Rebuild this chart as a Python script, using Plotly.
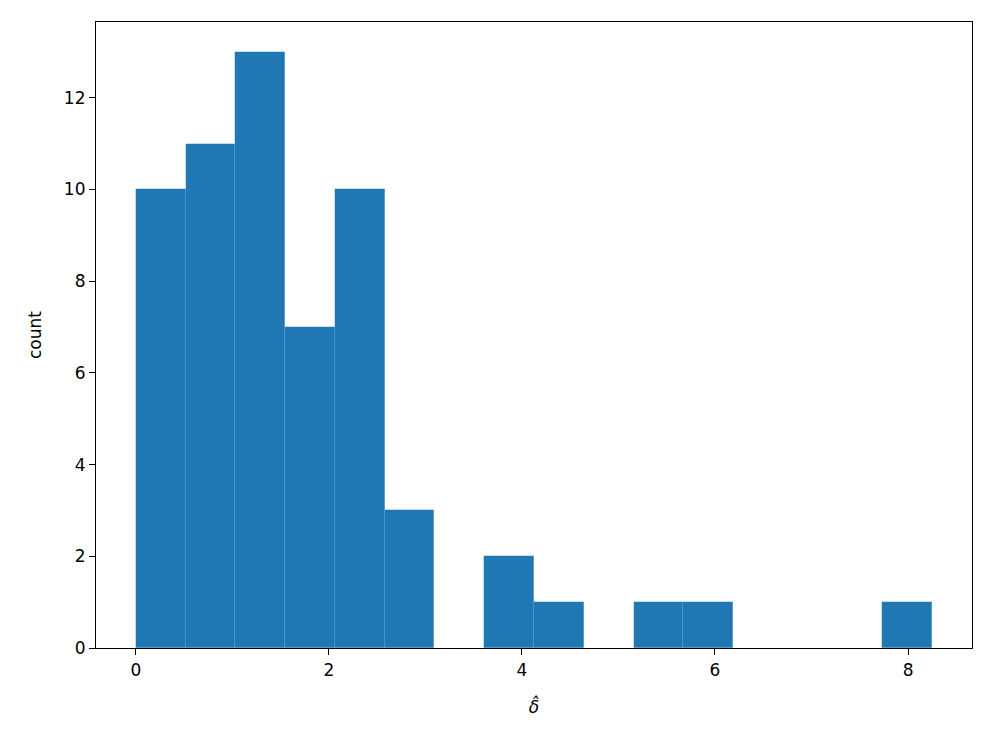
import numpy as np
import plotly.graph_objects as go

# histogram of delta-hat: 16 equal bins between 0 and 8.25
bin_start = 0.0
bin_end = 8.25
counts = [10, 11, 13, 7, 10, 3, 0, 2, 1, 0, 1, 1, 0, 0, 0, 1]

y_ticks = [0, 2, 4, 6, 8, 10, 12]
x_ticks = [0, 2, 4, 6, 8]

edges = np.linspace(bin_start, bin_end, len(counts) + 1)
centers = (edges[:-1] + edges[1:]) / 2
width = edges[1] - edges[0]

fig = go.Figure(
    go.Bar(
        x=centers, y=counts, width=width,
        marker=dict(color="#1f77b4", line=dict(width=0.5, color="rgba(255,255,255,0.06)")),
    )
)

span = bin_end - bin_start
axis_style = dict(
    showgrid=False, zeroline=False, showline=True, mirror=True,
    linecolor="black", linewidth=1.2, ticks="outside", ticklen=6,
    tickwidth=1.2, tickcolor="black",
    tickfont=dict(family="DejaVu Sans", size=17, color="black"),
)
fig.update_xaxes(
    range=[bin_start - 0.05 * span, bin_end + 0.05 * span],
    tickvals=x_ticks,
    title=dict(text="<i>δ̂</i>", font=dict(family="DejaVu Sans", size=17, color="black"), standoff=22),
    **axis_style,
)
fig.update_yaxes(
    range=[0, max(counts) * 1.05],
    tickvals=y_ticks,
    title=dict(text="count", font=dict(family="DejaVu Sans", size=17, color="black"), standoff=17),
    **axis_style,
)
# page body adds 8px, so margins are offset to land the axes where matplotlib had them
fig.update_layout(
    width=996, height=747,
    margin=dict(l=88, r=32, t=14, b=107),
    paper_bgcolor="white", plot_bgcolor="white",
    bargap=0, showlegend=False,
)

fig.write_html("out.html")
